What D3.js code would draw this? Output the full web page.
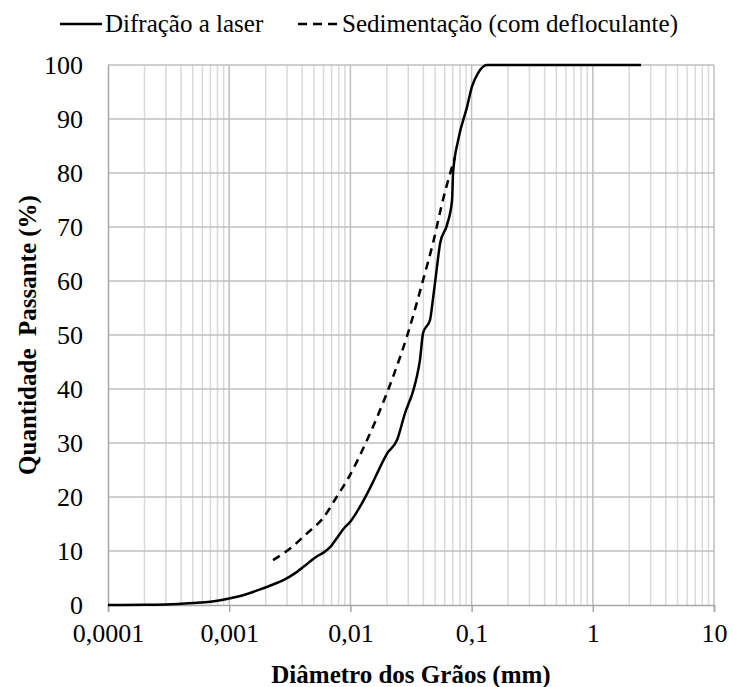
<!DOCTYPE html>
<html>
<head>
<meta charset="utf-8">
<script src="https://cdn.jsdelivr.net/npm/d3@7"></script>
<style>
html,body{margin:0;padding:0;background:#fff;}
svg{display:block;}
</style>
</head>
<body>
<svg id="chart" width="733" height="687"></svg>
<script>
// Data
const laserDiam = [0.0001,0.0002,0.0003,0.0005,0.0007,0.001,0.0013,0.0018,0.0023,0.0028,0.0035,0.0045,0.0052,0.006,0.0068,0.0078,0.009,0.0098,0.012,0.015,0.018,0.02,0.0243,0.0282,0.0331,0.0355,0.0375,0.0398,0.0454,0.0479,0.0511,0.055,0.0627,0.069,0.0703,0.0773,0.0916,0.1007,0.113,0.134,2.5];
const laserPass = [0,0.05,0.1,0.35,0.6,1.2,1.8,2.9,3.8,4.6,5.9,7.8,8.9,9.7,10.7,12.5,14.4,15.2,18.2,22.3,26,28,30.6,35.5,39.8,42.5,45.4,50.4,52.8,56.5,61.5,67,70.4,75,80,86,92.2,96,98.5,100,100];
const sedDiam = [0.0023,0.0032,0.0045,0.0059,0.0077,0.0096,0.0137,0.0175,0.022,0.0299,0.0398,0.048,0.058,0.073];
const sedPass = [8.3,10.5,13.5,16,20,23.5,30.5,36,41.7,50.4,60.2,67,75,83];
const xTickValues = [0.0001,0.001,0.01,0.1,1,10];
const xTickLabels = ["0,0001","0,001","0,01","0,1","1","10"];
const yTickValues = [0,10,20,30,40,50,60,70,80,90,100];
const seriesNames = ["Difração a laser","Sedimentação (com defloculante)"];

const FONT = "Liberation Serif";
const svg = d3.select("#chart");
const L = 108, R = 714, T = 65, B = 605;
const x = d3.scaleLog().domain([0.0001,10]).range([L,R]);
const y = d3.scaleLinear().domain([0,100]).range([B,T]);

// minor vertical gridlines
const minor = [];
for (let e=-4;e<1;e++) for (let k=2;k<=9;k++) minor.push(k*Math.pow(10,e));
svg.append("g").selectAll("line").data(minor).join("line")
  .attr("x1",d=>x(d)).attr("x2",d=>x(d)).attr("y1",T).attr("y2",B)
  .attr("stroke","#d9d9d9").attr("stroke-width",1.5);
// major vertical
svg.append("g").selectAll("line").data(xTickValues.slice(1)).join("line")
  .attr("x1",d=>x(d)).attr("x2",d=>x(d)).attr("y1",T).attr("y2",B)
  .attr("stroke","#bfbfbf").attr("stroke-width",1.5);
// horizontal gridlines
svg.append("g").selectAll("line").data(yTickValues.slice(1)).join("line")
  .attr("x1",L).attr("x2",R).attr("y1",d=>y(d)).attr("y2",d=>y(d))
  .attr("stroke","#bfbfbf").attr("stroke-width",1.5);

// axes
const xAxis = svg.append("g").attr("transform",`translate(0,${B})`)
  .call(d3.axisBottom(x).tickValues(xTickValues).tickFormat((d,i)=>xTickLabels[i]).tickSize(7).tickPadding(12));
xAxis.attr("font-family",FONT);
xAxis.select(".domain").attr("stroke","#a6a6a6").attr("stroke-width",1.5);
xAxis.selectAll(".tick line").attr("stroke","#a6a6a6").attr("stroke-width",1.5);
xAxis.selectAll("text").attr("font-family",FONT).attr("font-size",26).attr("fill","#000");

const yAxis = svg.append("g").attr("transform",`translate(${L},0)`)
  .call(d3.axisLeft(y).tickValues(yTickValues).tickSize(0).tickPadding(25));
yAxis.attr("font-family",FONT);
yAxis.select(".domain").attr("stroke","#a6a6a6").attr("stroke-width",1.5);
yAxis.selectAll("text").attr("font-family",FONT).attr("font-size",26).attr("fill","#000");

// lines
const line = d3.line().x(d=>x(d[0])).y(d=>y(d[1])).curve(d3.curveMonotoneX);
svg.append("path").datum(laserDiam.map((d,i)=>[d,laserPass[i]]))
  .attr("d",line).attr("fill","none").attr("stroke","#000").attr("stroke-width",2.5);
svg.append("path").datum(sedDiam.map((d,i)=>[d,sedPass[i]]))
  .attr("d",line).attr("fill","none").attr("stroke","#000").attr("stroke-width",2.5)
  .attr("stroke-dasharray","8,6");

// axis titles
svg.append("text").attr("x",(L+R)/2).attr("y",683).attr("text-anchor","middle")
  .attr("font-family",FONT).attr("font-size",25).attr("font-weight","bold").text("Diâmetro dos Grãos (mm)");
svg.append("text").attr("transform",`translate(36,${(T+B)/2}) rotate(-90)`).attr("text-anchor","middle")
  .attr("font-family",FONT).attr("font-size",25).attr("font-weight","bold").style("white-space","pre").text("Quantidade  Passante (%)");

// legend
const lg = svg.append("g");
lg.append("line").attr("x1",60).attr("x2",102).attr("y1",24).attr("y2",24).attr("stroke","#000").attr("stroke-width",2.5);
lg.append("text").attr("x",105).attr("y",32).attr("font-family",FONT).attr("font-size",25).text(seriesNames[0]);
lg.append("line").attr("x1",298).attr("x2",338).attr("y1",24).attr("y2",24).attr("stroke","#000").attr("stroke-width",2.5).attr("stroke-dasharray","9,6");
lg.append("text").attr("x",342).attr("y",32).attr("font-family",FONT).attr("font-size",25).text(seriesNames[1]);
</script>
</body>
</html>
